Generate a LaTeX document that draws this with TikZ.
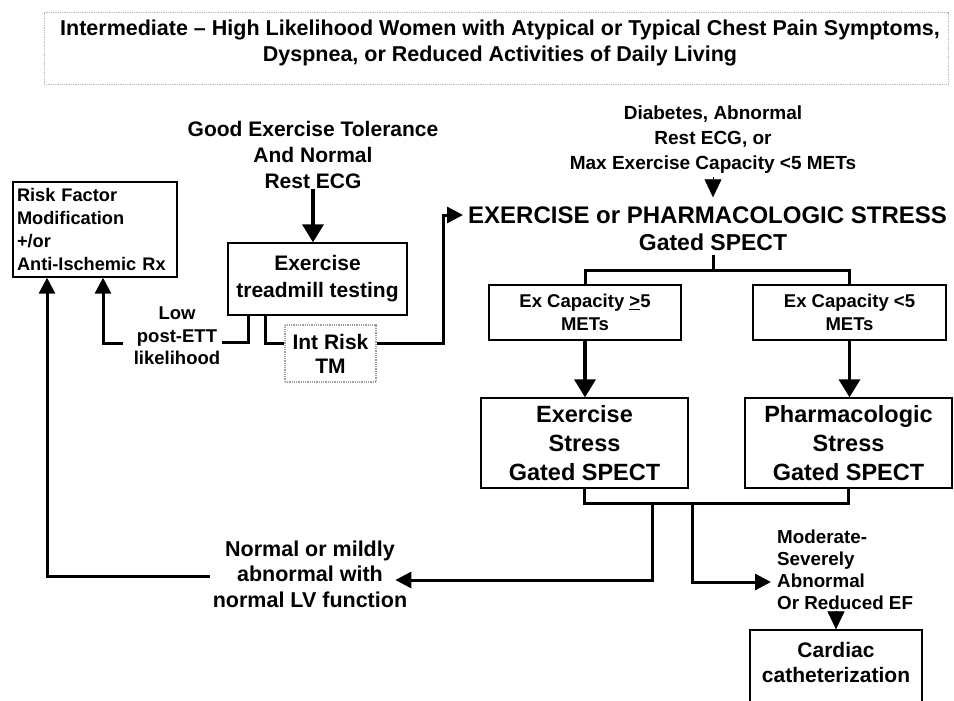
\documentclass[tikz,border=0pt]{standalone}
\usepackage{fontspec}
\setmainfont{Liberation Sans}
\usetikzlibrary{arrows.meta,calc}
\begin{document}
\begin{tikzpicture}[x=1pt,y=-1pt,
  bx/.style={draw=black, line width=1.3pt, align=center, inner sep=0pt},
  dotbx/.style={draw=gray!75, dash pattern=on 1pt off 0.8pt, line width=2pt, align=center, inner sep=0pt},
  txt/.style={align=center, inner sep=0pt},
  con/.style={line width=3pt},
  bigarr/.style={line width=3.5pt, -{Triangle[width=21pt,length=18pt]}},
  medarr/.style={line width=3pt, -{Triangle[width=16pt,length=16pt]}},
  tri/.style={line width=0.5pt, -{Triangle[width=17pt,length=18pt]}}]
\useasboundingbox (0,0) rectangle (954,701);

% title
\node[dotbx, draw=gray!55, line width=1pt, minimum width=904pt, minimum height=72pt] (titlebox) at (496,49) {};
\node[txt, font=\fontsize{21.5}{25.5}\selectfont\bfseries] (title) at (500,43) {Intermediate -- High Likelihood Women with Atypical or Typical Chest Pain Symptoms,\\ Dyspnea, or Reduced Activities of Daily Living};

% nodes
\node[txt, font=\fontsize{21}{26}\selectfont\bfseries] (good) at (313,155) {Good Exercise Tolerance\\ And Normal\\ Rest ECG};
\node[bx, font=\fontsize{21}{27}\selectfont\bfseries, minimum width=179pt, minimum height=72pt] (ett) at (317.5,279) {Exercise\\ treadmill testing};
\node[bx, font=\fontsize{18.2}{22.8}\selectfont\bfseries, align=left, text width=156pt, inner xsep=4pt, minimum height=95pt] (rf) at (95,229.5) {Risk Factor\\ Modification\\ +/or\\ Anti-Ischemic Rx};
\node[txt, font=\fontsize{18.5}{22.5}\selectfont\bfseries] (low) at (177,336) {Low\\ post-ETT\\ likelihood};
\node[dotbx, font=\fontsize{21}{24}\selectfont\bfseries, minimum width=91pt, minimum height=57pt] (int) at (330.5,353.5) {Int Risk\\ TM};
\node[txt, font=\fontsize{19}{25}\selectfont\bfseries] (diab) at (713,140) {Diabetes, Abnormal\\ Rest ECG, or\\ Max Exercise Capacity <5 METs};
\node[txt, font=\fontsize{24}{27}\selectfont\bfseries, anchor=west] (exer1) at (468,215) {EXERCISE or PHARMACOLOGIC STRESS};
\node[txt, font=\fontsize{23}{27}\selectfont\bfseries] (exer2) at (713,242) {Gated SPECT};
\node[bx, font=\fontsize{18.5}{23}\selectfont\bfseries, minimum width=192pt, minimum height=55pt] (excL) at (585,312.5) {Ex Capacity \underline{>}5\\ METs};
\node[bx, font=\fontsize{18.5}{23}\selectfont\bfseries, minimum width=193pt, minimum height=55pt] (excR) at (849.5,312.5) {Ex Capacity <5\\ METs};
\node[bx, font=\fontsize{23.5}{29}\selectfont\bfseries, minimum width=207pt, minimum height=90pt] (exs) at (584.5,443) {Exercise\\ Stress\\ Gated SPECT};
\node[bx, font=\fontsize{23.5}{29}\selectfont\bfseries, minimum width=207pt, minimum height=90pt] (pharm) at (848.5,443) {Pharmacologic\\ Stress\\ Gated SPECT};
\node[txt, font=\fontsize{21.5}{25.5}\selectfont\bfseries] (normal) at (310,574) {Normal or mildly\\ abnormal with\\ normal LV function};
\node[txt, font=\fontsize{18.8}{22}\selectfont\bfseries, align=left, anchor=west] (mod) at (777,570) {Moderate-\\ Severely\\ Abnormal\\ Or Reduced EF};
\node[bx, minimum width=172pt, minimum height=76pt] (cath) at (836,668) {};
\node[txt, font=\fontsize{21}{25}\selectfont\bfseries] (cathtxt) at (836,662.5) {Cardiac\\ catheterization};

% connectors left
\draw[bigarr] (good.south) -- (good.south |- ett.north);
\coordinate (k1) at (248,342);
\draw[con] (k1 |- ett.south) -- (k1) -- ($(low.east |- k1)+(2,0)$);
\coordinate (k2) at (103,343);
\draw[con, medarr] ($(low.west |- k2)+(-11,0)$) -- (k2) -- (k2 |- rf.south);
\coordinate (k3) at (265,343);
\draw[con] (k3 |- ett.south) -- (k3) -- (int.west |- k3);
\coordinate (k4) at (443,215);
\draw[con, medarr, shorten >=5pt] (int.east |- k3) -| (k4) -- (k4 -| exer1.west);

% connectors right
\draw[tri, shorten <=3pt, shorten >=9pt] (diab.south) -- (diab.south |- exer1.north);
\coordinate (k5) at (713,270);
\draw[con] ($(exer2.south)+(0,4)$) -- (k5);
\draw[con] (excL.north) |- (k5) -| (excR.north);
\draw[bigarr] (excL.south) -- (excL.south |- exs.north);
\draw[bigarr] (excR.south) -- (excR.south |- pharm.north);
\coordinate (k6) at (584.5,503);
\draw[con] (exs.south) -- (k6) -| (pharm.south);

\coordinate (k7) at (652,503);
\coordinate (k8) at (652,580);
\draw[con, medarr] (k7) -- (k8) -- ($(normal.east |- k8)+(-12,0)$);
\coordinate (k9) at (692,503);
\coordinate (k10) at (692,582);
\draw[con, medarr] (k9) -- (k10) -- ($(mod.west |- k10)+(-6,0)$);
\coordinate (k11) at (47,576);
\draw[con, medarr] ($(normal.west |- k11)+(-3,0)$) -- (k11) -- (k11 |- rf.south);
\draw[tri, shorten <=2pt] (mod.south -| cath.north) -- (cath.north);
\end{tikzpicture}
\end{document}
